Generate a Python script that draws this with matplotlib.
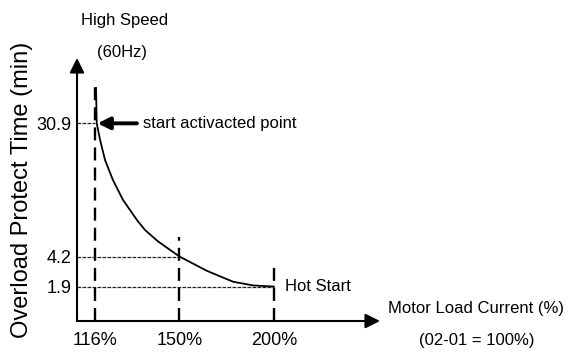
import numpy as np
import matplotlib
matplotlib.use('Agg')
import matplotlib.pyplot as plt

# reference points on the curve
x_ticks = [116, 150, 200]
y_ticks = [1.9, 4.2, 30.9]
x_labels = ['116%', '150%', '200%']
y_labels = ['1.9', '4.2', '30.9']

# overload curve
curve_x = [116.35, 116.6, 117.8, 119.6, 122.5, 126.3, 131.8, 135.1, 140.5, 150,
           163.2, 176.6, 187.7, 200]
curve_y = [43.6, 30.9, 25.8, 20.4, 15.8, 11.9, 8.6, 7.2, 5.8, 4.2,
           2.96, 2.2, 1.97, 1.9]

plt.rcParams['font.family'] = ['Liberation Sans', 'DejaVu Sans']

fig = plt.figure(figsize=(5.68, 3.56), dpi=100)
ax = fig.add_axes([77/568, 1 - 321/356, 303/568, 263/356])

# the sketch is not linear: log on x, a power law on y fits the tick spacing
p = 0.39
ax.set_xscale('log')
ax.set_yscale('function', functions=(lambda v: np.power(np.clip(v, 1e-9, None), p),
                                     lambda v: np.power(np.clip(v, 1e-9, None), 1/p)))
ax.set_xlim(109.8, 276.3)
ax.set_ylim(0.4815, 56.5)
x0, y0 = ax.get_xlim()[0], ax.get_ylim()[0]

ax.plot(curve_x, curve_y, color='k', lw=1.3, solid_joinstyle='round')

# long dashed verticals
dash_tops = [46.8, 6.3, 3.6]
for x, top in zip(x_ticks, dash_tops):
    ax.plot([x, x], [y0, top], color='k', lw=1.7, dashes=(5.5, 3))

# fine dashed horizontals from the axis to the curve
ax.hlines(y_ticks, x0, x_ticks[::-1], color='#222222', lw=0.9, linestyles=(0, (3, 1)))

# axes with arrows
for s in ax.spines.values():
    s.set_visible(False)
for end in [(0, 1), (1, 0)]:
    ax.annotate('', xy=end, xytext=(0, 0), xycoords='axes fraction',
                arrowprops=dict(arrowstyle='-|>', color='k', lw=1.5, mutation_scale=22,
                                shrinkA=0, shrinkB=0))

ax.set_xticks(x_ticks)
ax.set_xticklabels(x_labels)
ax.xaxis.set_minor_locator(matplotlib.ticker.NullLocator())
ax.set_yticks(y_ticks)
ax.set_yticklabels(y_labels)
ax.yaxis.set_minor_locator(matplotlib.ticker.NullLocator())
ax.tick_params(axis='both', length=0, labelsize=13)
ax.tick_params(axis='x', pad=8)
ax.tick_params(axis='y', pad=4)

ax.set_ylabel('Overload Protect Time (min)', fontsize=17)
ax.yaxis.set_label_coords(-44/303, 0.5)

# annotations
ax.annotate('', xy=(116.9, 30.9), xytext=(131.8, 30.9),
            arrowprops=dict(arrowstyle='-|>', color='k', lw=2.8, mutation_scale=18,
                            shrinkA=0, shrinkB=0))
ax.text(134.3, 30.9, 'start activacted point', fontsize=12, va='center', ha='left')
ax.text(206.8, 1.9, 'Hot Start', fontsize=12, va='center', ha='left')

fig.text(125/568, 1 - 20/356, 'High Speed', fontsize=12, ha='center', va='center')
fig.text(122/568, 1 - 52/356, '(60Hz)', fontsize=12, ha='center', va='center')
fig.text(476/568, 1 - 308/356, 'Motor Load Current (%)', fontsize=12, ha='center', va='center')
fig.text(477/568, 1 - 340/356, '(02-01 = 100%)', fontsize=12, ha='center', va='center')

fig.savefig('out.png', dpi=100)
